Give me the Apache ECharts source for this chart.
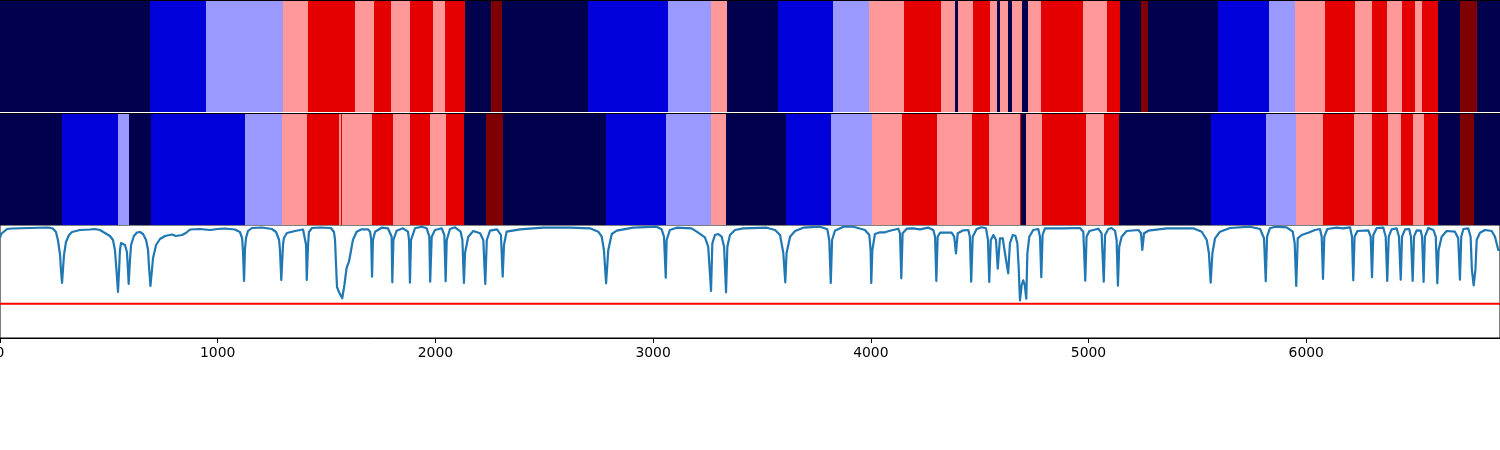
<!DOCTYPE html>
<html>
<head>
<meta charset="utf-8">
<style>html,body{margin:0;padding:0;background:#fff}#c{width:1500px;height:450px}</style>
<script src="https://cdn.jsdelivr.net/npm/echarts@6/dist/echarts.min.js"></script>
</head>
<body>
<div id="c"></div>
<script>
const palette = ['#00004c', '#0000db', '#9999ff', '#ff9999', '#e50000', '#7f0000'];
const xTicks = [0, 1000, 2000, 3000, 4000, 5000, 6000];
const xMax = 6890;
const threshold = 34.3;

const row1Edges = [0,689,946,1300,1415,1631,1718,1796,1883,1989,2044,2136,2255,2306,2701,3068,3266,3339,3574,3826,3992,4152,4322,4387,4400,4469,4547,4579,4593,4630,4648,4694,4722,4782,4975,5085,5144,5241,5273,5595,5829,5948,6086,6224,6302,6371,6440,6499,6532,6605,6706,6784,6890];
const row1Levels = [0,1,2,3,4,3,4,3,4,3,4,0,5,0,1,2,3,0,1,2,3,4,3,0,3,4,3,0,3,0,3,0,3,4,3,4,0,5,0,1,2,3,4,3,4,3,4,3,4,0,5,0];

const row2Edges = [0,285,542,593,694,1125,1295,1410,1557,1566,1571,1709,1805,1883,1975,2049,2131,2232,2310,2784,3059,3266,3335,3610,3817,4005,4143,4304,4465,4543,4685,4690,4713,4786,4988,5071,5140,5562,5815,5953,6077,6219,6302,6375,6435,6490,6541,6605,6706,6770,6890];
const row2Levels = [0,1,2,0,1,2,3,4,3,4,3,4,3,4,3,4,0,5,0,1,2,3,0,1,2,3,4,3,4,3,4,0,3,4,3,4,0,1,2,3,4,3,4,3,4,3,4,0,5,0];

const lineX = [0,5,14,32,55,138,220,243,257,266,276,280,285,289,294,303,317,331,367,413,436,459,482,505,519,528,535,542,547,551,556,565,574,583,588,591,597,602,615,629,643,657,671,680,684,691,698,703,717,735,758,790,808,836,854,873,919,965,1001,1033,1079,1102,1112,1116,1121,1125,1130,1139,1157,1203,1249,1268,1282,1286,1292,1300,1304,1318,1355,1392,1401,1406,1409,1415,1419,1433,1470,1520,1534,1539,1543,1548,1557,1572,1582,1592,1603,1621,1638,1661,1690,1700,1705,1709,1713,1723,1753,1782,1799,1802,1807,1822,1851,1874,1879,1883,1888,1906,1937,1960,1972,1976,1983,1998,2029,2041,2047,2052,2067,2090,2116,2124,2131,2136,2151,2174,2205,2220,2229,2236,2251,2283,2301,2309,2315,2327,2389,2494,2618,2710,2748,2764,2774,2784,2794,2810,2833,2908,3016,3039,3050,3058,3062,3077,3108,3177,3207,3238,3253,3266,3272,3284,3299,3315,3326,3335,3341,3353,3376,3414,3522,3560,3583,3598,3607,3613,3629,3652,3690,3767,3800,3809,3816,3822,3835,3874,3920,3973,3993,3999,4002,4007,4019,4042,4065,4088,4126,4134,4140,4146,4165,4194,4226,4264,4287,4295,4301,4307,4318,4371,4383,4391,4399,4425,4448,4455,4461,4468,4486,4509,4529,4538,4544,4551,4563,4575,4583,4593,4606,4616,4631,4639,4652,4664,4673,4679,4685,4693,4700,4707,4714,4719,4728,4746,4769,4777,4783,4789,4800,4883,4961,4976,4985,4991,5004,5045,5060,5070,5076,5091,5106,5122,5129,5135,5141,5152,5175,5229,5241,5247,5255,5275,5359,5481,5520,5543,5553,5561,5569,5581,5604,5650,5742,5788,5806,5814,5820,5833,5857,5910,5938,5947,5954,5961,5979,6009,6040,6063,6071,6077,6083,6097,6140,6170,6201,6210,6216,6222,6235,6285,6296,6302,6308,6324,6354,6365,6372,6379,6392,6415,6426,6434,6440,6454,6473,6481,6489,6495,6507,6526,6532,6539,6545,6561,6584,6595,6602,6608,6622,6645,6683,6698,6706,6712,6722,6744,6755,6761,6769,6777,6783,6798,6821,6852,6867,6882,6890];
const lineY = [100,104,106,109,109.5,110,110.5,109.5,106,98,83,68,55,68,83,96,103,106,108,108.5,109,108,105,102,98,88,68,46,68,88,95,96,93,86,68,54,78,93,102,105.5,106,104,98,88,73,52,68,80,93,99,102,103.5,102,103,105,108.5,109,108,109,109.5,108.5,106,100,88,57,88,100,107,110,110.5,109,106,98,88,58,93,100,105,107,108.5,107,93,58,93,106,110,110.5,110,106,98,76,51,46,39.7,53,70,76.3,98,106.3,108.7,108.7,106.3,98,61.3,98,106.3,110.3,109.7,101.3,55.7,98,107.3,109.7,106.3,98,55.3,98,109.7,111.3,109.7,101.3,56.3,101.3,108,109.7,103,56.7,98,109,110.7,106.3,98,55,85,101.3,107,104.7,98,54,98,107.3,108.7,103,61.3,93,106.3,108.7,110.3,110.3,109.7,106.3,101.3,88,54.7,88,104,107.3,110.3,111.3,108.7,101.3,60.3,98,108,110.3,109.7,105.3,100.7,91.3,47,94.7,103,104,101.3,91.3,45.7,91.3,103,108,109.7,110.3,108,103,85,55.7,85,101.3,107,110.3,111.3,108.7,98,55,98,107.3,111.3,111.3,108,103,88,55,88,104,105.7,105.7,107.3,109.3,104.7,59.7,104.7,109.3,109.7,108.7,110.3,108,101.3,57,101.3,105.3,105.3,101.3,84.7,104.7,107.7,108,101.3,56.3,101.3,109,110.7,109.7,98,56,98,103,98,69.3,99.7,99.7,85,64.7,94.7,103,102.3,94.7,71.3,37.7,53,57.7,53,39.3,84.7,101.3,108,109,101.3,60.7,103,109.7,109.7,110,106.3,57.3,101.3,107,109.3,104.7,56.3,103,109,110,107,98,52.3,91.3,101.3,107,108,104.7,88,104.7,107.3,109.7,109.7,106.3,98,84.7,55.3,84.7,99.7,106.3,110,111.3,109,99.7,56.7,101.3,109.7,111.3,110.7,106.3,94.7,52,99.7,103,105.3,108,109,101.3,59,101.3,109,110.3,109.7,110.7,101.3,57.7,101.3,107,107.7,101.3,60.7,103,110,110.3,101.3,57,101.3,108.7,109.7,101.3,58.3,101.3,108.7,109,101.3,57,101.3,107.7,107.3,101.3,56,101.3,110,108,101.3,54.7,88,101.3,107,106.3,99.7,58.3,101.3,109,109.7,101.3,68,52.7,68,98,105.3,108,107,101.3,88,88];

function bands(edges, levels) {
  return levels.map((lv, i) => [edges[i], edges[i + 1], lv]);
}
function renderBand(params, api) {
  const a = api.coord([api.value(0), 1]);
  const b = api.coord([api.value(1), 0]);
  const x0 = Math.round(a[0]), x1 = Math.round(b[0]);
  return {
    type: 'rect',
    shape: { x: x0, y: Math.round(a[1]), width: x1 - x0, height: Math.round(b[1]) - Math.round(a[1]) },
    style: { fill: palette[api.value(2)] }
  };
}
function hiddenX(i) {
  return {
    type: 'value', gridIndex: i, min: 0, max: xMax, position: 'top', z: 5,
    axisLine: { show: true, onZero: false, lineStyle: { color: '#000', width: 1 } },
    axisTick: { show: false }, axisLabel: { show: false }, splitLine: { show: false }
  };
}
function hiddenY(i, max) {
  return { type: 'value', gridIndex: i, min: 0, max: max, show: false, splitLine: { show: false } };
}

const chart = echarts.init(document.getElementById('c'), null, { renderer: 'canvas' });
chart.setOption({
  animation: false,
  backgroundColor: '#fff',
  grid: [
    { left: 0, width: 1500, top: 0, height: 112, outerBoundsMode: 'none' },
    { left: 0, width: 1500, top: 113, height: 112, outerBoundsMode: 'none' },
    { left: 0, width: 1500, top: 225, height: 113, outerBoundsMode: 'none', show: true, borderColor: '#000', borderWidth: 1, backgroundColor: 'transparent' }
  ],
  xAxis: [
    hiddenX(0),
    hiddenX(1),
    {
      type: 'value', gridIndex: 2, min: 0, max: xMax, interval: 1000,
      axisLine: { show: true, onZero: false, lineStyle: { color: '#000', width: 1 } },
      axisTick: { show: true, length: 5, customValues: xTicks, lineStyle: { color: '#000', width: 1 } },
      axisLabel: { show: true, customValues: xTicks, formatter: v => String(v), color: '#000', fontFamily: 'DejaVu Sans', fontSize: 13.9, margin: 8 },
      splitLine: { show: false }
    }
  ],
  yAxis: [hiddenY(0, 1), hiddenY(1, 1), hiddenY(2, 113)],
  series: [
    { type: 'custom', xAxisIndex: 0, yAxisIndex: 0, renderItem: renderBand, encode: { x: [0, 1] }, data: bands(row1Edges, row1Levels), silent: true },
    { type: 'custom', xAxisIndex: 1, yAxisIndex: 1, renderItem: renderBand, encode: { x: [0, 1] }, data: bands(row2Edges, row2Levels), silent: true },
    {
      type: 'line', xAxisIndex: 2, yAxisIndex: 2, showSymbol: false, symbol: 'none', smooth: false,
      lineStyle: { color: '#1f77b4', width: 2.2, join: 'round' }, silent: true,
      data: lineX.map((x, i) => [x, lineY[i]])
    },
    {
      type: 'line', xAxisIndex: 2, yAxisIndex: 2, showSymbol: false, symbol: 'none',
      lineStyle: { color: '#ff0000', width: 2.1 }, silent: true,
      data: [[0, threshold], [xMax, threshold]]
    }
  ]
});
</script>
</body>
</html>
